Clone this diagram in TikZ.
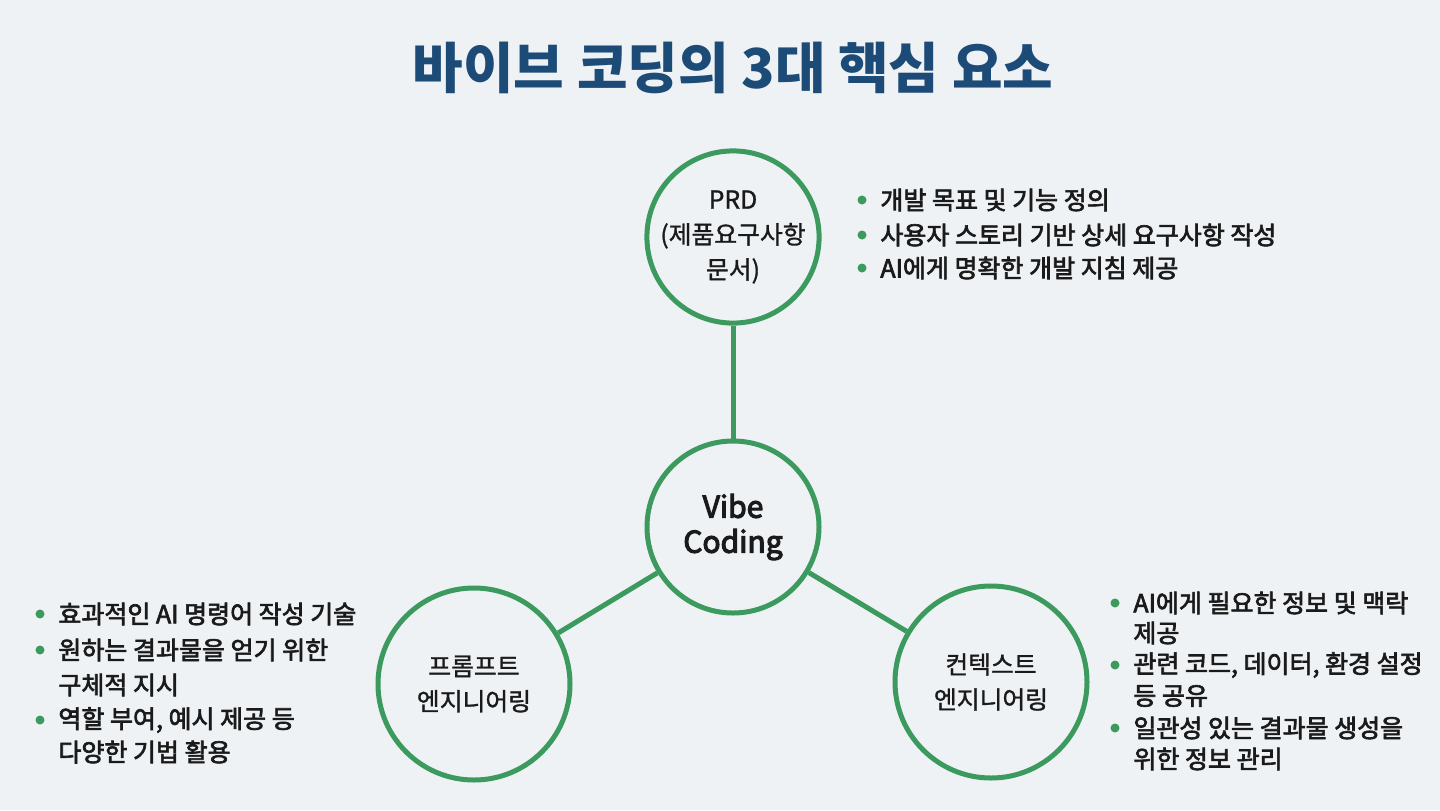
\documentclass[tikz,border=0pt]{standalone}
\usepackage{fontspec}
\setmainfont{Noto Sans CJK KR}
\newfontfamily\krm{Noto Sans CJK KR}[FakeBold=2.6]
\newfontfamily\krl{Noto Sans CJK KR}[FakeBold=1.2]
\newfontfamily\krv{Noto Sans CJK KR}[FakeBold=3.6]
\definecolor{bg}{HTML}{EEF2F5}
\definecolor{grn}{HTML}{3C9A5F}
\definecolor{navy}{HTML}{1D4B77}
\definecolor{ink}{HTML}{1A1A1A}
\tikzset{
  ring/.style={circle, draw=grn, line width=2.5pt, fill=bg, inner sep=0pt, align=center, text=ink},
  conn/.style={draw=grn, line width=2.5pt},
  dot/.style={circle, fill=grn, minimum size=4.5pt, inner sep=0pt},
  btxt/.style={anchor=west, inner sep=0pt, text=ink, font=\krm\fontsize{12.5}{15}\selectfont},
  lbl/.style={font=\krl\fontsize{12.4}{17.5}\selectfont}
}
\begin{document}
\begin{tikzpicture}[x=0.5pt,y=-0.5pt]
\fill[bg] (0,0) rectangle (1440,810);
\useasboundingbox (0,0) rectangle (1440,810);

\node[text=navy, font=\bfseries\fontsize{27.5}{32}\selectfont] (title) at (733,68) {바이브 코딩의 3대 핵심 요소};

% circles
\node[ring, minimum size=80pt, lbl] (prd) at (733,237) {PRD\\(제품요구사항\\문서)};
\node[ring, minimum size=86pt, font=\krv\fontsize{15}{17.5}\selectfont] (vibe) at (733,527) {Vibe\\Coding};
\node[ring, minimum size=96pt, lbl] (prompt) at (474,684) {프롬프트\\엔지니어링};
\node[ring, minimum size=96pt, lbl] (ctx) at (991,682) {컨텍스트\\엔지니어링};

\draw[conn] (prd) -- (vibe);
\draw[conn] (vibe) -- (prompt);
\draw[conn] (vibe) -- (ctx);

% PRD bullets
\node[dot] (pd1) at (862,200) {};
\node[btxt] (pt1) at (880,200) {개발 목표 및 기능 정의};
\node[dot] (pd2) at (862,235) {};
\node[btxt] (pt2) at (880,235) {사용자 스토리 기반 상세 요구사항 작성};
\node[dot] (pd3) at (862,268) {};
\node[btxt] (pt3) at (880,268) {AI에게 명확한 개발 지침 제공};

% prompt bullets
\node[dot] (ld1) at (40,614) {};
\node[btxt] (lt1) at (58,614) {효과적인 AI 명령어 작성 기술};
\node[dot] (ld2) at (40,650) {};
\node[btxt] (lt2) at (58,650) {원하는 결과물을 얻기 위한};
\node[btxt] (lt2b) at (58,685) {구체적 지시};
\node[dot] (ld3) at (40,720) {};
\node[btxt] (lt3) at (58,720) {역할 부여, 예시 제공 등};
\node[btxt] (lt3b) at (58,752) {다양한 기법 활용};

% context bullets
\node[dot] (rd1) at (1115,603) {};
\node[btxt] (rt1) at (1133,603) {AI에게 필요한 정보 및 맥락};
\node[btxt] (rt1b) at (1133,633) {제공};
\node[dot] (rd2) at (1115,665) {};
\node[btxt] (rt2) at (1133,665) {관련 코드, 데이터, 환경 설정};
\node[btxt] (rt2b) at (1133,696) {등 공유};
\node[dot] (rd3) at (1115,728) {};
\node[btxt] (rt3) at (1133,728) {일관성 있는 결과물 생성을};
\node[btxt] (rt3b) at (1133,759) {위한 정보 관리};
\end{tikzpicture}
\end{document}
